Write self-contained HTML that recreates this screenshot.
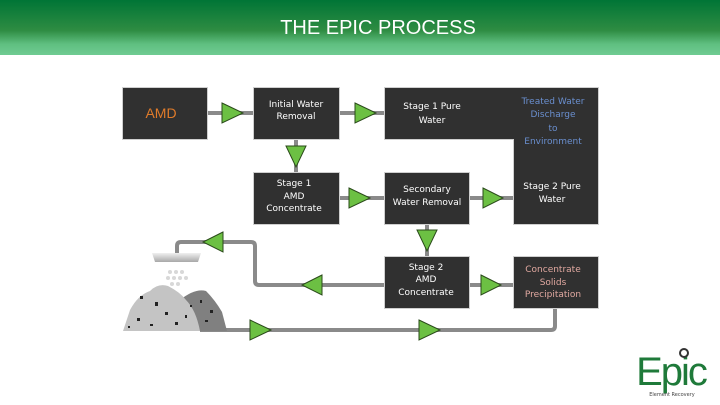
<!DOCTYPE html>
<html><head><meta charset="utf-8"><style>
html,body{margin:0;padding:0;background:#fff;width:720px;height:405px;overflow:hidden}
svg{display:block}
text{font-family:"DejaVu Sans","Liberation Sans",sans-serif;font-size:9px;fill:#fff;text-anchor:middle}
</style></head><body>
<svg width="720" height="405" viewBox="0 0 720 405" xmlns="http://www.w3.org/2000/svg">
<defs>
<linearGradient id="hg" x1="0" y1="0" x2="0" y2="1">
<stop offset="0" stop-color="#007536"/>
<stop offset="0.55" stop-color="#2e8c42"/>
<stop offset="0.8" stop-color="#5fbf80"/>
<stop offset="1" stop-color="#6fcb92"/>
</linearGradient>
<linearGradient id="pg" x1="0" y1="0" x2="0" y2="1">
<stop offset="0" stop-color="#f0f0f0"/><stop offset="1" stop-color="#a8a8a8"/>
</linearGradient>
</defs>
<rect x="0" y="0" width="720" height="55" fill="url(#hg)"/>
<text x="378" y="34" style="font-family:'Liberation Sans',sans-serif;font-size:20px">THE EPIC PROCESS</text>

<!-- connectors -->
<g stroke="#8a8a8a" stroke-width="4" fill="none">
<line x1="207" y1="113" x2="254" y2="113"/>
<line x1="339" y1="113" x2="385" y2="113"/>
<line x1="296" y1="139" x2="296" y2="173"/>
<line x1="339" y1="198" x2="385" y2="198"/>
<line x1="469" y1="198" x2="514" y2="198"/>
<line x1="427" y1="224" x2="427" y2="257"/>
<line x1="469" y1="285" x2="514" y2="285"/>
<path d="M385 285 H259 Q255 285 255 281 V246 Q255 242 251 242 H181 Q177 242 177 246 V254"/>
<path d="M200 330 H551 Q555 330 555 326 V308"/>
</g>

<!-- boxes -->
<g fill="#303030" stroke="#cfcfcf" stroke-width="1">
<rect x="122.5" y="87.5" width="85" height="52"/>
<rect x="253.5" y="87.5" width="86" height="52"/>
<path d="M384.5 87.5 H598.5 V224.5 H513.5 V139.5 H384.5 Z"/>
<rect x="253.5" y="172.5" width="86" height="52"/>
<rect x="384.5" y="172.5" width="85" height="52"/>
<rect x="384.5" y="256.5" width="85" height="52"/>
<rect x="513.5" y="256.5" width="85" height="52"/>
</g>

<!-- arrows -->
<g fill="#6cc043" stroke="#2a4a1a" stroke-width="1">
<polygon points="222,103 243,113 222,123"/>
<polygon points="355,103 376,113 355,123"/>
<polygon points="286,146 306,146 296,167"/>
<polygon points="349,188 370,198 349,208"/>
<polygon points="483,188 503,198 483,208"/>
<polygon points="417,230 437,230 427,251"/>
<polygon points="481,275 501,285 481,295"/>
<polygon points="322,275 302,285 322,295"/>
<polygon points="223,232 203,242 223,252"/>
<polygon points="250,320 271,330 250,340"/>
<polygon points="419,320 440,330 419,340"/>
</g>

<!-- texts -->
<text x="161" y="118" style="font-size:14px;fill:#e07b2a;font-family:'Liberation Sans',sans-serif">AMD</text>
<text x="296" y="107">Initial Water</text>
<text x="296" y="119">Removal</text>
<text x="432" y="109">Stage 1 Pure</text>
<text x="432" y="123">Water</text>
<text x="553" y="104" style="fill:#6a8fcf">Treated Water</text>
<text x="553" y="117" style="fill:#6a8fcf">Discharge</text>
<text x="553" y="131" style="fill:#6a8fcf">to</text>
<text x="553" y="144" style="fill:#6a8fcf">Environment</text>
<text x="294" y="186">Stage 1</text>
<text x="294" y="199">AMD</text>
<text x="294" y="211">Concentrate</text>
<text x="427" y="192">Secondary</text>
<text x="427" y="205">Water Removal</text>
<text x="552" y="189">Stage 2 Pure</text>
<text x="552" y="202">Water</text>
<text x="426" y="270">Stage 2</text>
<text x="426" y="282">AMD</text>
<text x="426" y="295">Concentrate</text>
<text x="553" y="272" style="fill:#e0a8a0">Concentrate</text>
<text x="553" y="285" style="fill:#e0a8a0">Solids</text>
<text x="553" y="297" style="fill:#e0a8a0">Precipitation</text>

<!-- spray + pile -->
<path d="M152 253 H201 L198 262 H155 Z" fill="url(#pg)"/>
<g fill="#d8d8d8"><circle cx="170" cy="272" r="2"/><circle cx="176" cy="272" r="2"/><circle cx="182" cy="272" r="2"/><circle cx="168" cy="278" r="2"/><circle cx="174" cy="278" r="2"/><circle cx="180" cy="278" r="2"/><circle cx="186" cy="278" r="2"/><circle cx="172" cy="284" r="2"/><circle cx="178" cy="284" r="2"/></g>
<path d="M180 300 Q195 288 206 291 Q215 300 222 312 L227 331 H175 Z" fill="#808080"/>
<path d="M123 331 L130 310 Q138 295 150 291 Q158 283 168 286 Q180 292 186 300 Q196 310 200 331 Z" fill="#c4c4c4"/>
<g fill="#222"><rect x="140" y="296" width="3" height="3"/><rect x="155" y="302" width="3" height="4"/><rect x="165" y="312" width="3" height="3"/><rect x="137" y="318" width="3" height="3"/><rect x="150" y="324" width="3" height="2"/><rect x="175" y="322" width="3" height="3"/><rect x="185" y="315" width="2" height="3"/><rect x="200" y="300" width="2" height="3"/><rect x="210" y="310" width="3" height="3"/><rect x="205" y="320" width="3" height="2"/><rect x="190" y="305" width="2" height="2"/><rect x="128" y="326" width="2" height="2"/></g>

<!-- logo -->
<text x="671" y="385" style="font-family:'Liberation Sans',sans-serif;font-size:40px;fill:#1f7a3a;letter-spacing:-2px">Epic</text>
<circle cx="684" cy="353" r="4" fill="none" stroke="#333" stroke-width="2"/>
<text x="672" y="396" style="font-size:5px;fill:#444">Element Recovery</text>
</svg>
</body></html>
